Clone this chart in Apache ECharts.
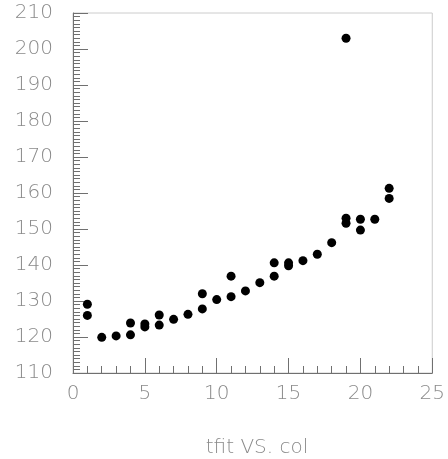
<!DOCTYPE html>
<html>
<head>
<meta charset="utf-8">
<script src="https://cdn.jsdelivr.net/npm/echarts@6/dist/echarts.min.js"></script>
<style>
  html, body { margin: 0; padding: 0; background: #fff; }
  #chart { width: 448px; height: 459px; }
</style>
</head>
<body>
<div id="chart"></div>
<script>
// column number and fitted t for each measurement
const colValues = [1, 1, 2, 3, 4, 4, 5, 5, 6, 6, 7, 8, 9, 9, 10, 11, 11, 12, 13, 14, 14, 15, 15, 16, 17, 18, 19, 19, 19, 20, 20, 21, 22, 22];
const tfitValues = [129.1, 126.0, 119.9, 120.3, 120.6, 123.9, 122.8, 123.6, 126.1, 123.3, 124.9, 126.3, 132.0, 127.8, 130.4, 136.9, 131.2, 132.8, 135.1, 140.6, 136.9, 140.6, 139.8, 141.2, 143.0, 146.2, 203.0, 153.0, 151.6, 152.7, 149.7, 152.7, 161.3, 158.5];
const xTicks = [0, 5, 10, 15, 20, 25];
const yTicks = [110, 120, 130, 140, 150, 160, 170, 180, 190, 200, 210];
const chartTitle = 'tfit VS. col';

const points = colValues.map((c, i) => [c, tfitValues[i]]);

const labelFont = {
  color: '#8a8a8a',
  fontFamily: 'DejaVu Sans',
  fontWeight: 'lighter',
  fontSize: 20
};

const chart = echarts.init(document.getElementById('chart'), null, { renderer: 'canvas' });
chart.setOption({
  animation: false,
  backgroundColor: '#ffffff',
  title: {
    text: chartTitle,
    left: 252,
    textAlign: 'center',
    top: 433,
    textStyle: Object.assign({}, labelFont, { fontSize: 20 })
  },
  grid: {
    left: 73, right: 14, top: 13, bottom: 86,
    show: true,
    borderColor: '#cccccc',
    borderWidth: 1,
    backgroundColor: 'transparent'
  },
  xAxis: {
    type: 'value',
    min: xTicks[0],
    max: xTicks[xTicks.length - 1],
    interval: 5,
    axisLine: { show: true, onZero: false, lineStyle: { color: '#707070', width: 1 } },
    axisTick: { show: true, inside: true, length: 15, lineStyle: { color: '#707070' } },
    minorTick: { show: true, splitNumber: 5, length: 7, lineStyle: { color: '#707070' } },
    splitLine: { show: false },
    axisLabel: Object.assign({ margin: 11 }, labelFont)
  },
  yAxis: {
    type: 'value',
    min: yTicks[0],
    max: yTicks[yTicks.length - 1],
    interval: 10,
    axisLine: { show: true, onZero: false, lineStyle: { color: '#707070', width: 1 } },
    axisTick: { show: true, inside: true, length: 15, lineStyle: { color: '#707070' } },
    minorTick: { show: true, splitNumber: 10, length: 7, lineStyle: { color: '#707070' } },
    splitLine: { show: false },
    axisLabel: Object.assign({ margin: 20 }, labelFont)
  },
  series: [{
    type: 'scatter',
    data: points,
    symbol: 'circle',
    symbolSize: 9,
    itemStyle: { color: '#000000', opacity: 1 },
    silent: true
  }]
});
</script>
</body>
</html>
